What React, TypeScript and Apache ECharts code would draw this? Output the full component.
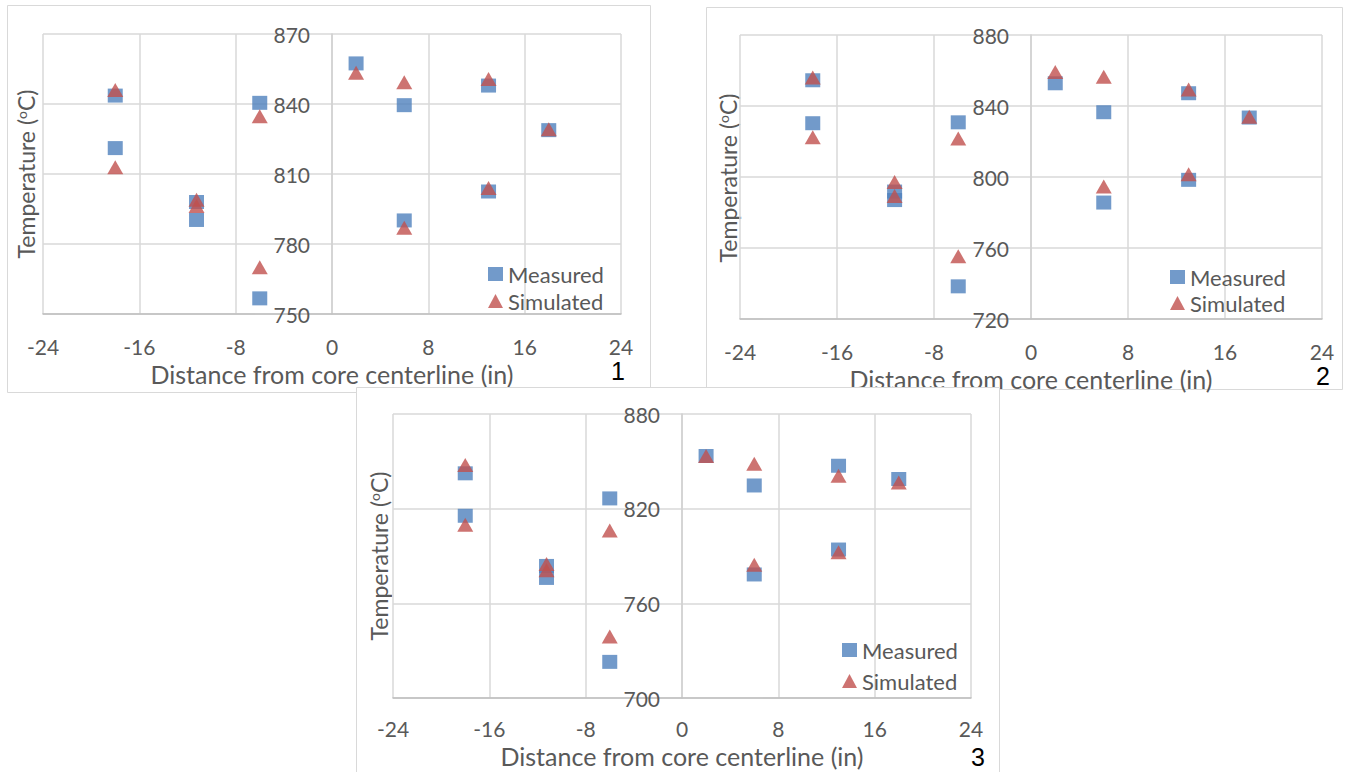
import React, { useEffect, useRef } from "react";
import * as echarts from "echarts";

// ---- data ----
const xRange = [-24, 24, 8]; // min, max, step
const xPositions = [-18, -18, -11.25, -11.25, -6, -6, 2, 6, 6, 13, 13, 18];

const yRange1 = [750, 870, 30];
const measured1 = [843.6, 821.1, 798, 790.3, 840.5, 756.7, 857.4, 839.5, 790.1, 847.9, 802.5, 828.8];
const simulated1 = [846, 812.9, 799, 796.3, 834.8, 770, 853.4, 849.3, 787, 850.7, 804, 829.2];

const yRange2 = [720, 880, 40];
const measured2 = [854.5, 830.3, 791.8, 787, 830.8, 738.4, 852.8, 836.5, 785.6, 847.2, 798.4, 833.5];
const simulated2 = [856, 822.4, 797.2, 789.3, 821.7, 755.4, 859.2, 856.5, 794.6, 849.3, 801.6, 834];

const yRange3 = [700, 880, 60];
const measured3 = [842.4, 815.5, 783.7, 776.1, 826.5, 722.9, 853.4, 834.7, 778.3, 847.2, 794.1, 838.8];
const simulated3 = [847.6, 809.8, 785, 781, 806.2, 738.9, 853.4, 848.5, 784.4, 840.9, 792.4, 836.6];

const seriesNames = ["Measured", "Simulated"];
const xTitle = "Distance from core centerline (in)";

const FONT = 'Lato, "Open Sans", sans-serif';
const TEXT = "#595959";
const GRID = "#d9d9d9";

type PanelCfg = {
  box: number[]; // left, top, right, bottom (page px) of the drawn frame
  extra: number; // extra canvas height below the frame
  plot: number[]; // x0, y0, x1, y1 (page px)
  yRange: number[];
  measured: number[];
  simulated: number[];
  legend: number[]; // icon left, top, gap
  tag: string;
  tagPos: number[];
  yTitle: number[];
  xLabelMargin: number;
  xTitleGap: number;
};

const panels: PanelCfg[] = [
  {
    box: [7, 5, 651, 393],
    extra: 0,
    plot: [43, 34, 621, 314],
    yRange: yRange1,
    measured: measured1,
    simulated: simulated1,
    legend: [488, 263, 5],
    tag: "1",
    tagPos: [618, 371],
    yTitle: [26, 174],
    xLabelMargin: 22,
    xTitleGap: 47,
  },
  {
    box: [706, 7, 1343, 390],
    extra: 10,
    plot: [740, 35, 1322, 319],
    yRange: yRange2,
    measured: measured2,
    simulated: simulated2,
    legend: [1170, 266, 4],
    tag: "2",
    tagPos: [1323, 376],
    yTitle: [728, 178],
    xLabelMargin: 22,
    xTitleGap: 42,
  },
  {
    box: [356, 387, 1000, 780],
    extra: 0,
    plot: [393, 414, 971, 698],
    yRange: yRange3,
    measured: measured3,
    simulated: simulated3,
    legend: [842, 639, 9],
    tag: "3",
    tagPos: [978, 757],
    yTitle: [379, 556],
    xLabelMargin: 20,
    xTitleGap: 43,
  },
];

function Panel({ cfg }: { cfg: PanelCfg }) {
  const ref = useRef<HTMLDivElement>(null);
  const [bl, bt, br, bb] = cfg.box;
  const w = br - bl;
  const h = bb - bt;
  useEffect(() => {
    const chart = echarts.init(ref.current!, null, { renderer: "svg" });
    const [px0, py0, px1, py1] = cfg.plot;
    const plotW = px1 - px0;
    chart.setOption({
      animation: false,
      grid: {
        left: px0 - bl,
        top: py0 - bt,
        width: plotW,
        height: py1 - py0,
        containLabel: false,
        outerBoundsMode: "none",
      },
      xAxis: {
        type: "value",
        min: xRange[0],
        max: xRange[1],
        interval: xRange[2],
        axisLine: { show: true, onZero: false, lineStyle: { color: "#bfbfbf", width: 1.5 } },
        axisTick: { show: false },
        splitLine: { show: true, lineStyle: { color: GRID, width: 1.5 } },
        axisLabel: { fontSize: 21, color: TEXT, fontFamily: FONT, margin: cfg.xLabelMargin, showMinLabel: true, showMaxLabel: true },
        name: xTitle,
        nameLocation: "middle",
        nameGap: cfg.xTitleGap,
        nameTextStyle: { fontSize: 25, color: TEXT, fontFamily: FONT },
      },
      yAxis: {
        type: "value",
        position: "left",
        offset: -plotW / 2,
        min: cfg.yRange[0],
        max: cfg.yRange[1],
        interval: cfg.yRange[2],
        axisLine: { show: true, onZero: false, lineStyle: { color: "#d0d0d0", width: 1.5 } },
        axisTick: { show: false },
        splitLine: { show: true, lineStyle: { color: GRID, width: 1.5 } },
        axisLabel: { fontSize: 21, color: TEXT, fontFamily: FONT, margin: 22, showMinLabel: true, showMaxLabel: true },
      },
      legend: {
        orient: "vertical",
        left: cfg.legend[0] - bl,
        top: cfg.legend[1] - bt,
        itemGap: cfg.legend[2],
        itemWidth: 15,
        itemHeight: 14,
        padding: 0,
        textStyle: { fontSize: 22, color: TEXT, fontFamily: FONT },
        data: [
          { name: seriesNames[0], icon: "rect" },
          { name: seriesNames[1], icon: "triangle" },
        ],
      },
      series: [
        {
          name: seriesNames[0],
          type: "scatter",
          symbol: "rect",
          symbolSize: [15, 14],
          itemStyle: { color: "#4F81BD" },
          data: xPositions.map((x, i) => [x, cfg.measured[i]]),
        },
        {
          name: seriesNames[1],
          type: "scatter",
          symbol: "triangle",
          symbolSize: [16, 14],
          itemStyle: { color: "#C0504D" },
          data: xPositions.map((x, i) => [x, cfg.simulated[i]]),
        },
      ],
      graphic: [
        {
          type: "rect",
          shape: { x: 0.5, y: 0.5, width: w - 1, height: h - 1 },
          style: { fill: "none", stroke: GRID, lineWidth: 1 },
          silent: true,
          z: -10,
        },
        {
          type: "text",
          x: cfg.yTitle[0] - bl,
          y: cfg.yTitle[1] - bt,
          rotation: Math.PI / 2,
          style: {
            text: "Temperature ({s|o}C)",
            rich: { s: { fontSize: 14, fontFamily: FONT, fill: TEXT, verticalAlign: "top" } },
            fontSize: 23,
            fontFamily: FONT,
            fill: TEXT,
            align: "center",
            verticalAlign: "middle",
          },
        },
        {
          type: "text",
          x: cfg.tagPos[0] - bl,
          y: cfg.tagPos[1] - bt,
          style: {
            text: cfg.tag,
            fontSize: 25,
            fontFamily: '"Liberation Sans", Arial, sans-serif',
            fill: "#000",
            align: "center",
            verticalAlign: "middle",
          },
        },
      ],
    });
    return () => chart.dispose();
  }, []);
  return (
    <div
      ref={ref}
      style={{ position: "absolute", left: bl, top: bt, width: w, height: h + cfg.extra }}
    />
  );
}

export default function App() {
  return (
    <div
      style={{
        position: "fixed",
        left: 0,
        top: 0,
        width: 1352,
        height: 772,
        background: "#fff",
        overflow: "hidden",
      }}
    >
      {panels.map((p, i) => (
        <div key={i} style={{ position: "absolute", left: 0, top: 0 }}>
          <div
            style={{
              position: "absolute",
              left: p.box[0],
              top: p.box[1],
              width: p.box[2] - p.box[0],
              height: p.box[3] - p.box[1],
              background: "#fff",
            }}
          />
          <Panel cfg={p} />
        </div>
      ))}
    </div>
  );
}
